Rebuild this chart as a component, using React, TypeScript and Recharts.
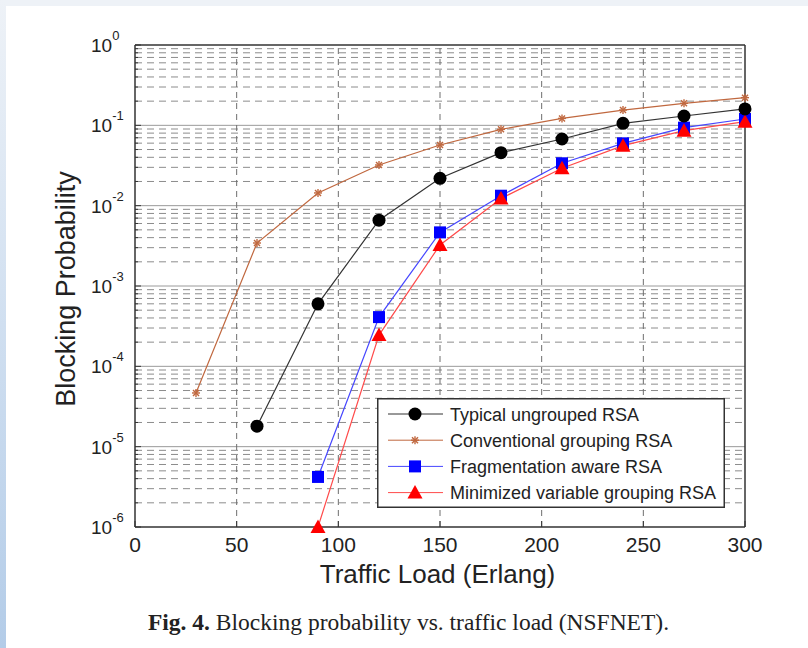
import React from 'react';
import { LineChart, Line, XAxis, YAxis, ReferenceLine, Legend, Label } from 'recharts';

const W = 808;
const H = 648;
const PLOT_LEFT = 135;
const PLOT_RIGHT = 745;
const PLOT_TOP = 45;
const PLOT_BOTTOM = 527;
const FONT = '"Liberation Sans", Arial, Helvetica, sans-serif';
const SERIF = '"Liberation Serif", "Times New Roman", Times, serif';

// Axis ticks
const xTicks = [0, 50, 100, 150, 200, 250, 300];
const xGridValues = [50, 100, 150, 200, 250];
const decadeTicks = [1e-6, 1e-5, 1e-4, 1e-3, 1e-2, 1e-1, 1];
const minorMultipliers = [2, 3, 4, 5, 6, 7, 8, 9];
const decadeExponents = [-6, -5, -4, -3, -2, -1];
const minorTicks: number[] = [];
decadeExponents.forEach((e) => minorMultipliers.forEach((m) => minorTicks.push(m * Math.pow(10, e))));
const allYTicks = [...decadeTicks, ...minorTicks].sort((a, b) => a - b);
const innerDecades = [1e-5, 1e-4, 1e-3, 1e-2, 1e-1];

// Series data
const typicalLoads = [60, 90, 120, 150, 180, 210, 240, 270, 300];
const typicalValues = [1.8e-5, 6.0e-4, 6.6e-3, 0.0219, 0.0457, 0.0676, 0.106, 0.1306, 0.16];

const conventionalLoads = [30, 60, 90, 120, 150, 180, 210, 240, 270, 300];
const conventionalValues = [4.66e-5, 3.43e-3, 0.0144, 0.0321, 0.0569, 0.0891, 0.122, 0.155, 0.188, 0.221];

const fragmentationLoads = [90, 120, 150, 180, 210, 240, 270, 300];
const fragmentationValues = [4.2e-6, 4.1e-4, 4.65e-3, 0.0133, 0.0337, 0.0597, 0.0935, 0.12];

const minimizedLoads = [90, 120, 150, 180, 210, 240, 270, 300];
const minimizedValues = [1.0e-6, 2.45e-4, 3.24e-3, 0.0123, 0.0292, 0.0558, 0.0859, 0.111];

const seriesNames = [
  'Typical ungrouped RSA',
  'Conventional grouping RSA',
  'Fragmentation aware RSA',
  'Minimized variable grouping RSA',
];

const toData = (xs: number[], ys: number[]) => xs.map((x, i) => ({ x, y: ys[i] }));
const typicalData = toData(typicalLoads, typicalValues);
const conventionalData = toData(conventionalLoads, conventionalValues);
const fragmentationData = toData(fragmentationLoads, fragmentationValues);
const minimizedData = toData(minimizedLoads, minimizedValues);

const BLACK_LINE = '#333333';
const BROWN = '#c0683f';
const BLUE_LINE = '#4646ff';
const RED_LINE = '#ff4a4a';

// Markers
const drawCircle = (cx: number, cy: number, key?: any) => (
  <circle key={key} cx={cx} cy={cy} r={6.5} fill="#000000" />
);
const drawStar = (cx: number, cy: number, key?: any) => (
  <g key={key} stroke={BROWN} strokeWidth={1.4}>
    <line x1={cx - 4} x2={cx + 4} y1={cy} y2={cy} />
    <line x1={cx} x2={cx} y1={cy - 4} y2={cy + 4} />
    <line x1={cx - 3} x2={cx + 3} y1={cy - 3} y2={cy + 3} />
    <line x1={cx - 3} x2={cx + 3} y1={cy + 3} y2={cy - 3} />
  </g>
);
const drawSquare = (cx: number, cy: number, key?: any) => (
  <rect key={key} x={cx - 6} y={cy - 6} width={12} height={12} fill="#0000ff" />
);
const drawTriangle = (cx: number, cy: number, key?: any) => (
  <polygon key={key} points={`${cx},${cy - 7.5} ${cx - 7.5},${cy + 6} ${cx + 7.5},${cy + 6}`} fill="#ff0000" />
);

const dotOf = (fn: (cx: number, cy: number, key?: any) => any) => (props: any) => {
  const { cx, cy, index } = props;
  if (cx == null || cy == null) return <g key={`d${index}`} />;
  return fn(cx, cy, `d${index}`);
};

// Ticks
const isDecade = (v: number) => {
  const e = Math.log10(v);
  return Math.abs(e - Math.round(e)) < 1e-6;
};

const BottomTick = (props: any) => {
  const { x, payload } = props;
  return (
    <g>
      <line x1={x} x2={x} y1={PLOT_BOTTOM} y2={PLOT_BOTTOM - 6} stroke="#333" strokeWidth={1} />
      <text x={x} y={552} textAnchor="middle" fontSize={21} fontFamily={FONT} fill="#222">
        {payload.value}
      </text>
    </g>
  );
};

const TopTick = (props: any) => {
  const { x } = props;
  return <line x1={x} x2={x} y1={PLOT_TOP} y2={PLOT_TOP + 6} stroke="#333" strokeWidth={1} />;
};

const LeftTick = (props: any) => {
  const { y, payload } = props;
  const v = payload.value;
  const major = isDecade(v);
  return (
    <g>
      <line x1={PLOT_LEFT} x2={PLOT_LEFT + (major ? 6 : 3)} y1={y} y2={y} stroke="#333" strokeWidth={1} />
      {major ? (
        <text x={91} y={y + 7} fontSize={19} fontFamily={FONT} fill="#222">
          10
          <tspan dy={-12} fontSize={13}>
            {String(Math.round(Math.log10(v)))}
          </tspan>
        </text>
      ) : null}
    </g>
  );
};

const RightTick = (props: any) => {
  const { y, payload } = props;
  const major = isDecade(payload.value);
  return <line x1={PLOT_RIGHT - (major ? 6 : 3)} x2={PLOT_RIGHT} y1={y} y2={y} stroke="#333" strokeWidth={1} />;
};

const XTitle = () => (
  <text x={437.5} y={583} textAnchor="middle" fontSize={26} fontFamily={FONT} fill="#222">
    Traffic Load (Erlang)
  </text>
);

const YTitle = () => (
  <text
    transform="translate(75,289) rotate(-90)"
    textAnchor="middle"
    fontSize={27}
    fontFamily={FONT}
    fill="#222"
  >
    Blocking Probability
  </text>
);

const legendMarkers = [drawCircle, drawStar, drawSquare, drawTriangle];
const legendLineColors = [BLACK_LINE, BROWN, BLUE_LINE, RED_LINE];

const LegendBox = () => (
  <svg width={348} height={110} style={{ display: 'block' }}>
    <rect x={0.75} y={0.75} width={346.5} height={108.5} fill="#ffffff" stroke="#333" strokeWidth={1.5} />
    {seriesNames.map((name, i) => {
      const cy = 16 + i * 26.2;
      return (
        <g key={name}>
          <line x1={11} x2={66} y1={cy} y2={cy} stroke={legendLineColors[i]} strokeWidth={1} />
          {legendMarkers[i](38, cy)}
          <text x={73} y={cy + 6.5} fontSize={18} fontFamily={FONT} fill="#222">
            {name}
          </text>
        </g>
      );
    })}
  </svg>
);

export default function App() {
  return (
    <div style={{ position: 'absolute', left: 0, top: 0, width: W, height: H, background: '#eef2f7', overflow: 'hidden' }}>
      <div
        style={{
          position: 'absolute',
          left: 0,
          top: 0,
          width: 6,
          height: H,
          background: 'linear-gradient(to bottom, #eef2f7 0%, #d3e1f1 45%, #b3cce8 100%)',
        }}
      />
      <div style={{ position: 'absolute', left: 6, top: 6, width: W - 6, height: H - 6, background: '#ffffff' }} />
      <div style={{ position: 'absolute', left: 0, top: 0 }}>
        <LineChart width={W} height={H} margin={{ top: 35, right: 53, bottom: 91, left: 75 }}>
          <XAxis
            xAxisId={0}
            type="number"
            dataKey="x"
            domain={[0, 300]}
            ticks={xTicks}
            interval={0}
            height={30}
            tickLine={false}
            tick={<BottomTick />}
            axisLine={{ stroke: '#333', strokeWidth: 1.5 }}
          >
            <Label content={<XTitle />} />
          </XAxis>
          <XAxis
            xAxisId="top"
            orientation="top"
            type="number"
            dataKey="x"
            domain={[0, 300]}
            ticks={xTicks}
            interval={0}
            height={10}
            tickLine={false}
            tick={<TopTick />}
            axisLine={{ stroke: '#333', strokeWidth: 1.5 }}
          />
          <YAxis
            yAxisId={0}
            scale="log"
            type="number"
            domain={[1e-6, 1]}
            ticks={allYTicks}
            interval={0}
            width={60}
            tickLine={false}
            tick={<LeftTick />}
            axisLine={{ stroke: '#333', strokeWidth: 1.5 }}
          >
            <Label content={<YTitle />} />
          </YAxis>
          <YAxis
            yAxisId="right"
            orientation="right"
            scale="log"
            type="number"
            domain={[1e-6, 1]}
            ticks={allYTicks}
            interval={0}
            width={10}
            tickLine={false}
            tick={<RightTick />}
            axisLine={{ stroke: '#333', strokeWidth: 1.5 }}
          />
          {minorTicks.map((v) => (
            <ReferenceLine key={`m${v}`} y={v} stroke="#8c8c8c" strokeWidth={1} strokeDasharray="7 5" />
          ))}
          {innerDecades.map((v) => (
            <ReferenceLine key={`d${v}`} y={v} stroke="#9a9a9a" strokeWidth={1} />
          ))}
          {xGridValues.map((v) => (
            <ReferenceLine key={`x${v}`} x={v} stroke="#6e6e6e" strokeWidth={1} strokeDasharray="6 5" />
          ))}
          <Line
            data={conventionalData}
            dataKey="y"
            name={seriesNames[1]}
            type="linear"
            stroke={BROWN}
            strokeWidth={1.2}
            dot={dotOf(drawStar)}
            activeDot={false}
            isAnimationActive={false}
          />
          <Line
            data={fragmentationData}
            dataKey="y"
            name={seriesNames[2]}
            type="linear"
            stroke={BLUE_LINE}
            strokeWidth={1.2}
            dot={dotOf(drawSquare)}
            activeDot={false}
            isAnimationActive={false}
          />
          <Line
            data={minimizedData}
            dataKey="y"
            name={seriesNames[3]}
            type="linear"
            stroke={RED_LINE}
            strokeWidth={1.2}
            dot={dotOf(drawTriangle)}
            activeDot={false}
            isAnimationActive={false}
          />
          <Line
            data={typicalData}
            dataKey="y"
            name={seriesNames[0]}
            type="linear"
            stroke={BLACK_LINE}
            strokeWidth={1.2}
            dot={dotOf(drawCircle)}
            activeDot={false}
            isAnimationActive={false}
          />
          <Legend
            layout="vertical"
            align="center"
            verticalAlign="middle"
            content={<LegendBox />}
            wrapperStyle={{ left: 377, top: 398, width: 348, height: 110, right: 'auto', bottom: 'auto' }}
          />
        </LineChart>
      </div>
      <svg style={{ position: 'absolute', left: 0, top: 590 }} width={W} height={58}>
        <text x={408.5} y={40} textAnchor="middle" fontSize={23.5} fontFamily={SERIF} fill="#222">
          <tspan fontWeight="bold">Fig. 4.</tspan> Blocking probability vs. traffic load (NSFNET).
        </text>
      </svg>
    </div>
  );
}
